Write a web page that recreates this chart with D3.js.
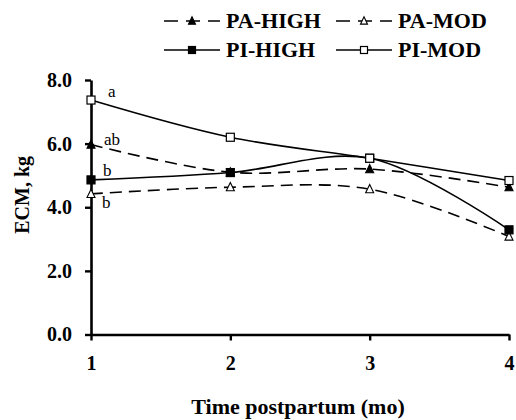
<!DOCTYPE html>
<html>
<head>
<meta charset="utf-8">
<script src="https://cdn.jsdelivr.net/npm/d3@7"></script>
<style>
  body { margin: 0; background: #fff; }
  svg text { font-family: "Liberation Serif", "Times New Roman", Times, "DejaVu Serif", serif !important; }
</style>
</head>
<body>
<svg id="chart" width="516" height="420"></svg>
<script>
// data
const months = [1, 2, 3, 4]
const seriesNames = ['PA-HIGH', 'PA-MOD', 'PI-HIGH', 'PI-MOD']
const paHigh = [5.97, 5.10, 5.20, 4.63]
const paMod = [4.42, 4.63, 4.57, 3.08]
const piHigh = [4.86, 5.09, 5.54, 3.29]
const piMod = [7.37, 6.20, 5.54, 4.84]
const yTicks = [0, 2, 4, 6, 8]
// significance letters at month 1
const letters = ['ab', 'b', 'b', 'a']

const styles = {
  'PA-HIGH': { dash: '12,7', marker: 'triangle', fill: '#000', lx: 13, ly: 0 },
  'PA-MOD': { dash: '12,7', marker: 'triangle', fill: '#fff', lx: 11, ly: 14 },
  'PI-HIGH': { dash: null, marker: 'square', fill: '#000', lx: 12, ly: -4 },
  'PI-MOD': { dash: null, marker: 'square', fill: '#fff', lx: 17, ly: -3 }
}
const values = [paHigh, paMod, piHigh, piMod]
const series = seriesNames.map((name, i) => ({
  name, letter: letters[i], points: months.map((m, j) => ({ m, v: values[i][j] }))
}))

const FONT = '"Liberation Serif", "Times New Roman", Times, serif'
const svg = d3.select('#chart').attr('font-family', FONT)
const x = d3.scaleLinear().domain([1, 4]).range([91, 509])
const y = d3.scaleLinear().domain([0, 8]).range([334.5, 80])

// axes
const yAxis = svg.append('g')
  .attr('transform', 'translate(91,0)')
  .call(d3.axisLeft(y).tickValues(yTicks).tickFormat(d3.format('.1f')).tickSize(6).tickSizeOuter(0))
const xAxis = svg.append('g')
  .attr('transform', 'translate(0,334.5)')
  .call(d3.axisBottom(x).tickValues(months).tickFormat(d3.format('d')).tickSize(6).tickSizeOuter(0))

;[yAxis, xAxis].forEach(a => {
  a.attr('font-family', FONT)
  a.select('.domain').attr('stroke', '#000').attr('stroke-width', 2.6)
  a.selectAll('.tick line').attr('stroke', '#000').attr('stroke-width', 2.4)
  a.selectAll('.tick text')
    .attr('font-size', 20).attr('font-weight', 'bold').attr('fill', '#000')
})
yAxis.selectAll('.tick text').attr('x', -19)
xAxis.selectAll('.tick text').attr('y', 21)

// axis titles
svg.append('text')
  .attr('transform', 'translate(29,' + y(4.39) + ') rotate(-90)')
  .attr('text-anchor', 'middle')
  .attr('font-size', 20).attr('font-weight', 'bold')
  .text('ECM, kg')
svg.append('text')
  .attr('x', 298).attr('y', 414)
  .attr('text-anchor', 'middle')
  .attr('font-size', 22).attr('font-weight', 'bold')
  .text('Time postpartum (mo)')

// lines
const line = d3.line()
  .x(d => x(d.m)).y(d => y(d.v))
  .curve(d3.curveCatmullRom.alpha(0.5))

function drawMarker (g, type, fill, cx, cy, s) {
  if (type === 'square') {
    g.append('rect')
      .attr('x', cx - s / 2).attr('y', cy - s / 2)
      .attr('width', s).attr('height', s)
      .attr('fill', fill).attr('stroke', '#000').attr('stroke-width', 1.2)
  } else {
    const h = s * 0.9
    g.append('path')
      .attr('d', `M${cx},${cy - h / 2 - 1}L${cx + s / 2},${cy + h / 2}L${cx - s / 2},${cy + h / 2}Z`)
      .attr('fill', fill).attr('stroke', '#000').attr('stroke-width', 1.1)
  }
}

const plot = svg.append('g')
series.forEach(s => {
  const st = styles[s.name]
  plot.append('path')
    .datum(s.points)
    .attr('d', line)
    .attr('fill', 'none').attr('stroke', '#000').attr('stroke-width', 1.6)
    .attr('stroke-dasharray', st.dash)
  s.points.forEach(p => drawMarker(plot, st.marker, st.fill, x(p.m), y(p.v), 8))
  plot.append('text')
    .attr('x', x(1) + st.lx)
    .attr('y', y(s.points[0].v) + st.ly)
    .attr('font-size', 17)
    .text(s.letter)
})

// legend
const legend = svg.append('g')
const legendPos = [[164, 21], [336, 21], [164, 50], [336, 50]]
seriesNames.forEach((name, i) => {
  const st = styles[name]
  const [lx, ly] = legendPos[i]
  const g = legend.append('g')
  g.append('line')
    .attr('x1', lx).attr('x2', lx + 56).attr('y1', ly).attr('y2', ly)
    .attr('stroke', '#000').attr('stroke-width', 1.6)
    .attr('stroke-dasharray', st.dash ? '14,8' : null)
  drawMarker(g, st.marker, st.fill, lx + 28, ly, 7)
  g.append('text')
    .attr('x', lx + 62).attr('y', ly + 7)
    .attr('font-size', 22).attr('font-weight', 'bold')
    .text(name)
})
</script>
</body>
</html>
